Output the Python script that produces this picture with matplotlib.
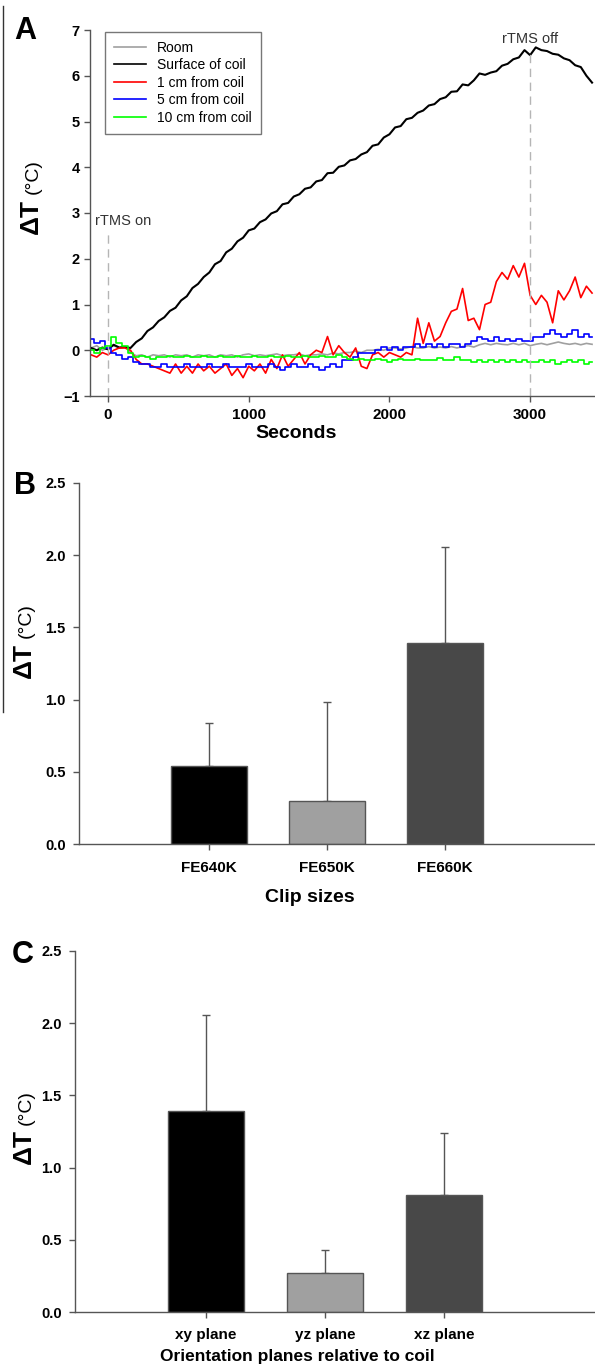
import numpy as np
import matplotlib
matplotlib.use('Agg')
import matplotlib.pyplot as plt
from matplotlib.lines import Line2D

plt.rcParams['font.family'] = ['Liberation Sans', 'DejaVu Sans']

# ---------------- Panel A data ----------------
seconds = np.arange(-120, 3441, 40)  # sampling grid, 90 samples

room = [0.05, 0.10, 0.00, 0.05, 0.10, 0.05, 0.08, -0.05, -0.12, -0.10,
        -0.15, -0.10, -0.12, -0.10, -0.15, -0.10, -0.12, -0.10, -0.15, -0.10,
        -0.12, -0.10, -0.15, -0.10, -0.12, -0.10, -0.15, -0.10, -0.08, -0.12,
        -0.10, -0.12, -0.10, -0.08, -0.12, -0.10, -0.10, -0.08, -0.12, -0.10,
        -0.10, -0.08, -0.10, -0.06, -0.08, -0.05, -0.05, -0.02, -0.05, 0.00,
        0.00, 0.02, 0.00, 0.05, 0.05, 0.03, 0.05, 0.08, 0.05, 0.05,
        0.08, 0.05, 0.07, 0.05, 0.08, 0.05, 0.08, 0.10, 0.07, 0.12,
        0.15, 0.12, 0.15, 0.13, 0.12, 0.15, 0.12, 0.15, 0.10, 0.13,
        0.15, 0.12, 0.15, 0.18, 0.15, 0.13, 0.15, 0.12, 0.15, 0.13]

surface = [0.05, 0.00, 0.06, 0.02, 0.12, 0.06, 0.07, 0.05, 0.18, 0.26,
           0.42, 0.50, 0.64, 0.72, 0.86, 0.93, 1.09, 1.18, 1.36, 1.45,
           1.60, 1.70, 1.88, 1.95, 2.14, 2.22, 2.38, 2.46, 2.62, 2.66,
           2.80, 2.86, 2.99, 3.04, 3.19, 3.22, 3.36, 3.41, 3.53, 3.56,
           3.69, 3.72, 3.87, 3.88, 4.01, 4.04, 4.15, 4.18, 4.28, 4.33,
           4.47, 4.50, 4.65, 4.72, 4.87, 4.90, 5.05, 5.08, 5.19, 5.24,
           5.35, 5.38, 5.49, 5.53, 5.65, 5.66, 5.81, 5.79, 5.90, 6.05,
           6.02, 6.07, 6.10, 6.22, 6.26, 6.36, 6.40, 6.56, 6.45, 6.62,
           6.56, 6.54, 6.48, 6.46, 6.38, 6.34, 6.23, 6.19, 6.00, 5.85]

cm1 = [-0.10, -0.15, -0.05, -0.10, 0.00, 0.05, 0.05, 0.00, -0.20, -0.30,
       -0.30, -0.35, -0.40, -0.45, -0.50, -0.30, -0.50, -0.35, -0.50, -0.30,
       -0.45, -0.35, -0.50, -0.40, -0.30, -0.55, -0.40, -0.60, -0.35, -0.45,
       -0.30, -0.50, -0.20, -0.40, -0.10, -0.35, -0.20, -0.05, -0.30, -0.10,
       0.00, -0.05, 0.30, -0.10, 0.10, -0.05, -0.15, 0.05, -0.35, -0.40,
       -0.10, -0.05, -0.15, -0.05, -0.10, -0.15, -0.05, -0.10, 0.70, 0.15,
       0.60, 0.20, 0.30, 0.60, 0.85, 0.90, 1.35, 0.65, 0.70, 0.45,
       1.00, 1.05, 1.50, 1.70, 1.55, 1.85, 1.60, 1.90, 1.20, 1.00,
       1.20, 1.05, 0.60, 1.30, 1.10, 1.30, 1.60, 1.15, 1.40, 1.25]

cm5 = [0.25, 0.15, 0.20, 0.05, -0.05, -0.10, -0.20, -0.15, -0.25, -0.30,
       -0.30, -0.37, -0.37, -0.30, -0.37, -0.37, -0.37, -0.30, -0.37, -0.37,
       -0.37, -0.30, -0.37, -0.37, -0.30, -0.37, -0.37, -0.37, -0.30, -0.37,
       -0.37, -0.37, -0.30, -0.37, -0.44, -0.37, -0.30, -0.37, -0.37, -0.30,
       -0.37, -0.44, -0.37, -0.30, -0.37, -0.22, -0.22, -0.15, -0.07, -0.07,
       -0.07, 0.00, 0.07, 0.00, 0.07, 0.00, 0.07, 0.07, 0.13, 0.07,
       0.13, 0.07, 0.13, 0.07, 0.13, 0.13, 0.07, 0.13, 0.20, 0.28,
       0.25, 0.20, 0.28, 0.20, 0.25, 0.20, 0.25, 0.20, 0.20, 0.28,
       0.30, 0.35, 0.44, 0.35, 0.30, 0.35, 0.44, 0.30, 0.35, 0.30]

cm10 = [0.00, -0.05, 0.05, 0.10, 0.30, 0.15, 0.10, -0.05, -0.15, -0.12,
        -0.15, -0.20, -0.15, -0.15, -0.12, -0.15, -0.15, -0.12, -0.15, -0.15,
        -0.12, -0.15, -0.15, -0.12, -0.15, -0.15, -0.12, -0.15, -0.15, -0.12,
        -0.15, -0.15, -0.12, -0.15, -0.15, -0.12, -0.15, -0.15, -0.12, -0.15,
        -0.15, -0.12, -0.15, -0.15, -0.10, -0.15, -0.20, -0.22, -0.20, -0.22,
        -0.22, -0.20, -0.22, -0.25, -0.22, -0.20, -0.22, -0.22, -0.20, -0.22,
        -0.22, -0.22, -0.18, -0.22, -0.22, -0.15, -0.22, -0.22, -0.25, -0.22,
        -0.25, -0.22, -0.25, -0.22, -0.25, -0.22, -0.25, -0.22, -0.25, -0.25,
        -0.22, -0.25, -0.22, -0.30, -0.25, -0.22, -0.25, -0.22, -0.30, -0.25]

series_labels = ['Room', 'Surface of coil', '1 cm from coil', '5 cm from coil', '10 cm from coil']
series_colors = ['#a0a0a0', '#000000', '#ff0000', '#0000ff', '#00ff00']

# ---------------- Panel B / C data ----------------
clip_sizes = ['FE640K', 'FE650K', 'FE660K']
clip_mean = [0.54, 0.30, 1.39]
clip_err = [0.30, 0.68, 0.67]

planes = ['xy plane', 'yz plane', 'xz plane']
plane_mean = [1.39, 0.27, 0.81]
plane_err = [0.67, 0.16, 0.43]

bar_colors = ['#000000', '#a0a0a0', '#484848']

W, H = 595, 1370
fig = plt.figure(figsize=(W / 100, H / 100), dpi=100)
SP = '#555555'


def fx(px):
    return px / W


def fy(py):
    return 1 - py / H


def style_axes(ax, xsize, ysize, xpad, ypad):
    for s in ['top', 'right']:
        ax.spines[s].set_visible(False)
    for s in ['left', 'bottom']:
        ax.spines[s].set_color(SP)
        ax.spines[s].set_linewidth(1.0)
    ax.tick_params(axis='both', direction='out', length=4.5, width=1, color=SP)
    ax.tick_params(axis='x', labelsize=xsize, pad=xpad)
    ax.tick_params(axis='y', labelsize=ysize, pad=ypad)
    for t in ax.get_xticklabels() + ax.get_yticklabels():
        t.set_fontweight('bold')


def ylabel(xc, py_dt, py_c):
    fig.text(fx(xc), fy(py_dt), 'ΔT', rotation=90, ha='center', va='center',
             fontsize=19, fontweight='bold')
    fig.text(fx(xc + 2), fy(py_c), '(°C)', rotation=90, ha='center', va='center',
             fontsize=14)


def bar_panel(ax, labels, means, errs, xpad):
    pos = np.arange(1, len(labels) + 1)
    ax.bar(pos, means, width=0.64, color=bar_colors, edgecolor=SP, linewidth=1, zorder=2)
    ax.errorbar(pos, means, yerr=[np.zeros(len(errs)), errs], fmt='none',
                ecolor=SP, elinewidth=1, capsize=3, capthick=1, zorder=1)
    ax.set_xlim(-0.10, 4.27)
    ax.set_ylim(0, 2.5)
    ax.set_xticks(pos)
    ax.set_xticklabels(labels)
    ticks = np.arange(0, 2.51, 0.5)
    ax.set_yticks(ticks)
    ax.set_yticklabels(['%.1f' % v for v in ticks])
    style_axes(ax, 11, 10.5, xpad, 5)


# ---------------- Panel A ----------------
axA = fig.add_axes([fx(90), fy(396), fx(595 - 90), 366 / H])
data = [room, surface, cm1, cm5, cm10]
for vals, lab, col in zip(data, series_labels, series_colors):
    lw = 1.5 if col == '#000000' else 1.2
    ds = 'steps-mid' if col in ('#0000ff', '#00ff00') else 'default'
    axA.plot(seconds, vals, color=col, lw=lw, label=lab, drawstyle=ds)
axA.plot([0, 0], [-1, 2.6], color='#b5b5b5', lw=1, dashes=(6, 4))
axA.plot([3000, 3000], [-1, 6.5], color='#b5b5b5', lw=1, dashes=(6, 4))
axA.text(-95, 2.82, 'rTMS on', ha='left', va='center', fontsize=10.5, color='#333333')
axA.text(3000, 6.8, 'rTMS off', ha='center', va='center', fontsize=10.5, color='#333333')
axA.set_xlim(-128, 3461)
axA.set_ylim(-1, 7)
axA.set_xticks([0, 1000, 2000, 3000])
axA.set_yticks(range(-1, 8))
style_axes(axA, 11, 10.5, 4, 3)
handles = [Line2D([], [], color=c, lw=1.2) for c in series_colors]
leg = axA.legend(handles, series_labels, loc='upper left', bbox_to_anchor=(0.03, 0.995),
                 fontsize=10, frameon=True, fancybox=False, edgecolor=SP,
                 handlelength=2.3, labelspacing=0.25, borderpad=0.65, borderaxespad=0)
leg.get_frame().set_linewidth(1.0)
fig.text(fx(296), fy(434), 'Seconds', ha='center', va='center', fontsize=14, fontweight='bold')
ylabel(31, 217, 177)
fig.text(fx(14), fy(16), 'A', ha='left', va='top', fontsize=22, fontweight='bold')

# ---------------- Panel B ----------------
axB = fig.add_axes([fx(79), fy(844), fx(595 - 79), 361 / H])
bar_panel(axB, clip_sizes, clip_mean, clip_err, 8)
fig.text(fx(310), fy(897), 'Clip sizes', ha='center', va='center', fontsize=14, fontweight='bold')
ylabel(24, 660, 621)
fig.text(fx(14), fy(471), 'B', ha='left', va='top', fontsize=22, fontweight='bold')

# ---------------- Panel C ----------------
axC = fig.add_axes([fx(75), fy(1312), fx(595 - 75), 361 / H])
bar_panel(axC, planes, plane_mean, plane_err, 7)
fig.text(fx(297), fy(1357), 'Orientation planes relative to coil', ha='center', va='center',
         fontsize=12.5, fontweight='bold')
ylabel(24, 1147, 1108)
fig.text(fx(12), fy(940), 'C', ha='left', va='top', fontsize=22, fontweight='bold')

# scan border artifact on the left
fig.add_artist(Line2D([fx(2.5), fx(2.5)], [fy(6), fy(712)], color='#333333', lw=1))

fig.savefig('out.png', dpi=100)
